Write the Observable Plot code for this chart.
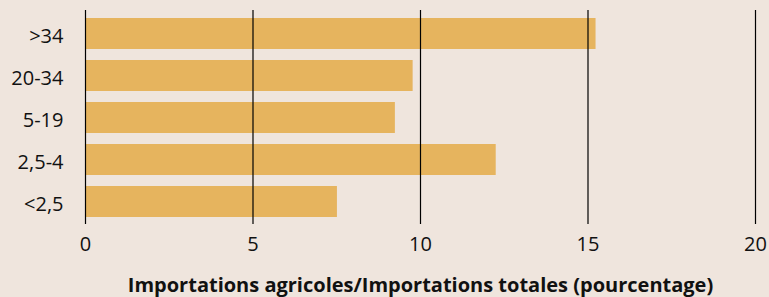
<!DOCTYPE html>
<html>
<head>
<meta charset="utf-8">
<script src="https://cdn.jsdelivr.net/npm/d3@7"></script>
<script src="https://cdn.jsdelivr.net/npm/@observablehq/plot@0.6"></script>
<style>
  html, body { margin: 0; padding: 0; background: #EFE5DD; overflow: hidden; }
</style>
</head>
<body>
<div id="chart"></div>
<script>
const categories = [">34", "20-34", "5-19", "2,5-4", "<2,5"];
const values = [15.24, 9.78, 9.25, 12.26, 7.52];
const xTicks = [0, 5, 10, 15, 20];
const xLabel = "Importations agricoles/Importations totales (pourcentage)";

const data = categories.map((c, i) => ({cat: c, value: values[i]}));

const chart = Plot.plot({
  width: 769,
  height: 297,
  marginTop: 10,
  marginBottom: 73,
  marginLeft: 85,
  marginRight: 14,
  style: {background: "#EFE5DD", fontFamily: "Open Sans", fontSize: "20px", color: "#111"},
  x: {domain: [0, 20]},
  y: {domain: categories, paddingInner: 0.27, paddingOuter: 0.135},
  marks: [
    Plot.barX(data, {x: "value", y: "cat", fill: "#E6B45E"}),
    Plot.ruleX(xTicks, {stroke: "#000", strokeWidth: 1.2}),
    Plot.axisX({ticks: xTicks, tickSize: 0, tickPadding: 12, fontSize: 20, label: null}),
    Plot.axisY({tickSize: 0, tickPadding: 22, fontSize: 20, dy: 3, label: null}),
    Plot.text([xLabel], {frameAnchor: "bottom", dy: 67, fontWeight: "bold", fontSize: 20, fill: "#111", lineAnchor: "bottom"})
  ]
});
document.getElementById("chart").appendChild(chart);
</script>
</body>
</html>
